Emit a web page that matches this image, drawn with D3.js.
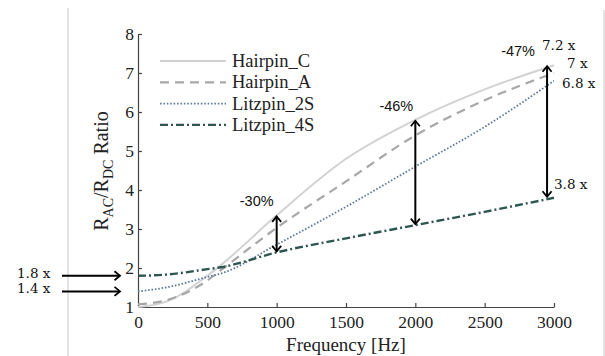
<!DOCTYPE html>
<html>
<head>
<meta charset="utf-8">
<script src="https://cdn.jsdelivr.net/npm/d3@7"></script>
<style>
  body { margin: 0; background: #fff; }
  svg { display: block; }
</style>
</head>
<body>
<svg id="chart" width="605" height="356"></svg>
<script>
// frequency points (Hz) and ratio values
const freqs      = [0,    200,  500,  600,  1000, 1500, 2000, 2500, 3000];
const hairpinC   = [1.0,  1.13, 1.8,  2.08, 3.35, 4.8,  5.8,  6.58, 7.2];
const hairpinA   = [1.07, 1.17, 1.68, 1.95, 3.03, 4.22, 5.4,  6.3,  7.0];
const litzpin2S  = [1.4,  1.5,  1.77, 1.86, 2.6,  3.57, 4.6,  5.62, 6.8];
const litzpin4S  = [1.8,  1.83, 1.97, 2.02, 2.4,  2.76, 3.1,  3.44, 3.8];

const seriesNames = ["Hairpin_C", "Hairpin_A", "Litzpin_2S", "Litzpin_4S"];
const xTicks = [0, 500, 1000, 1500, 2000, 2500, 3000];
const yTicks = [1, 2, 3, 4, 5, 6, 7, 8];

// reduction arrows: frequency, low value, high value, label
const arrowFreqs  = [1000, 2000, 2950];
const arrowLow    = [2.4, 3.1, 3.8];
const arrowHigh   = [3.35, 5.8, 7.2];
const arrowLabels = ["-30%", "-46%", "-47%"];

// end-value labels
const endLabels = ["7.2 x", "7 x", "6.8 x", "3.8 x"];
const startLabels = ["1.8 x", "1.4 x"];
const startValues = [1.8, 1.4];

const SERIF = '"Liberation Serif"';
const SANS = '"Liberation Sans"';
const SLAB = '"DejaVu Serif"';

const svg = d3.select("#chart");

const x = d3.scaleLinear().domain([0, 3000]).range([138, 554]);
const y = d3.scaleLinear().domain([1, 8]).range([307, 34]);

// page border lines
svg.append("line")
    .attr("x1", 68).attr("x2", 68).attr("y1", 8).attr("y2", 356)
    .attr("stroke", "#c8c8c8").attr("stroke-width", 1);
svg.append("line")
    .attr("x1", 604).attr("x2", 604).attr("y1", 10).attr("y2", 356)
    .attr("stroke", "#c8c8c8").attr("stroke-width", 1);

// x axis
const xAxis = svg.append("g")
    .attr("transform", `translate(0,${y(1)})`)
    .call(d3.axisBottom(x).tickValues(xTicks).tickFormat(d3.format("d"))
        .tickSizeInner(-4).tickSizeOuter(0).tickPadding(9));
// y axis
const yAxis = svg.append("g")
    .attr("transform", `translate(${x(0)},0)`)
    .call(d3.axisLeft(y).tickValues(yTicks).tickFormat(d3.format("d"))
        .tickSizeInner(-4).tickSizeOuter(0).tickPadding(4));

[xAxis, yAxis].forEach(a => {
    a.select(".domain").attr("stroke", "#444").attr("stroke-width", 1.2);
    a.selectAll(".tick line").attr("stroke", "#444").attr("stroke-width", 1.2);
    a.selectAll(".tick text")
        .style("font-family", SERIF)
        .style("font-size", "17.5px")
        .attr("fill", "#222");
});
xAxis.selectAll(".tick text").attr("dy", "0.71em");
xAxis.selectAll(".tick").filter(d => d === 0).select("line").remove();
yAxis.selectAll(".tick").filter(d => d === 1).select("line").remove();

// axis titles
svg.append("text")
    .attr("x", 346)
    .attr("y", 351)
    .attr("text-anchor", "middle")
    .style("font-family", SERIF)
    .style("font-size", "19px")
    .attr("fill", "#222")
    .text("Frequency [Hz]");

const yLabel = svg.append("text")
    .attr("transform", "translate(108,171) rotate(-90)")
    .attr("text-anchor", "middle")
    .style("font-family", SERIF)
    .style("font-size", "20px")
    .attr("fill", "#222");
yLabel.append("tspan").text("R");
yLabel.append("tspan").attr("dy", 5).style("font-size", "14px").text("AC");
yLabel.append("tspan").attr("dy", -5).text("/R");
yLabel.append("tspan").attr("dy", 5).style("font-size", "14px").text("DC");
yLabel.append("tspan").attr("dy", -5).text(" Ratio");

// series
const seriesValues = [hairpinC, hairpinA, litzpin2S, litzpin4S];
const seriesColors = ["#d2d2d2", "#a8a8a8", "#5f7b9a", "#2e5651"];
const seriesWidths = [2, 2.2, 1.8, 2.4];
const seriesDash = [null, "9,6", "1.6,1.8", "8,3,2,3"];

const line = d3.line()
    .x(d => x(d.f))
    .y(d => y(d.v))
    .curve(d3.curveMonotoneX);

seriesValues.forEach((vals, i) => {
    const pts = freqs.map((f, j) => ({ f: f, v: vals[j] }));
    svg.append("path")
        .datum(pts)
        .attr("fill", "none")
        .attr("stroke", seriesColors[i])
        .attr("stroke-width", seriesWidths[i])
        .attr("stroke-dasharray", seriesDash[i])
        .attr("d", line);
});

// legend
const legend = svg.append("g");
seriesNames.forEach((name, i) => {
    const ly = 61 + i * 21.3;
    legend.append("line")
        .attr("x1", 160).attr("x2", 226)
        .attr("y1", ly).attr("y2", ly)
        .attr("stroke", seriesColors[i])
        .attr("stroke-width", seriesWidths[i])
        .attr("stroke-dasharray", seriesDash[i]);
    legend.append("text")
        .attr("x", 232)
        .attr("y", ly + 6)
        .style("font-family", SERIF)
        .style("font-size", "18.5px")
        .attr("fill", "#222")
        .text(name);
});

// arrow markers
const defs = svg.append("defs");
defs.append("marker")
    .attr("id", "head")
    .attr("viewBox", "-8 -6 10 12")
    .attr("refX", 0).attr("refY", 0)
    .attr("markerWidth", 10).attr("markerHeight", 12)
    .attr("markerUnits", "userSpaceOnUse")
    .attr("orient", "auto-start-reverse")
    .append("path")
    .attr("d", "M-5.5,-4.5 L0,0 L-5.5,4.5")
    .attr("fill", "none")
    .attr("stroke", "#000")
    .attr("stroke-width", 1.8);

// vertical double arrows
arrowFreqs.forEach((f, i) => {
    svg.append("line")
        .attr("x1", x(f)).attr("x2", x(f))
        .attr("y1", y(arrowLow[i]) - 1).attr("y2", y(arrowHigh[i]) + 1)
        .attr("stroke", "#000")
        .attr("stroke-width", 2)
        .attr("marker-start", "url(#head)")
        .attr("marker-end", "url(#head)");
});

const labelDx = [-20, -19, -29];
arrowFreqs.forEach((f, i) => {
    svg.append("text")
        .attr("x", x(f) + labelDx[i])
        .attr("y", y(arrowHigh[i]) - 9)
        .attr("text-anchor", "middle")
        .style("font-family", SANS)
        .style("font-size", "14.5px")
        .attr("fill", "#111")
        .text(arrowLabels[i]);
});

// end value labels
const endPos = [[542, 50], [567, 68], [562, 88], [554, 189]];
endLabels.forEach((t, i) => {
    svg.append("text")
        .attr("x", endPos[i][0])
        .attr("y", endPos[i][1])
        .style("font-family", SLAB)
        .style("font-size", "13.5px")
        .attr("fill", "#111")
        .text(t);
});

// left arrows pointing at start values
startValues.forEach((v, i) => {
    svg.append("line")
        .attr("x1", 62).attr("x2", 120)
        .attr("y1", y(v)).attr("y2", y(v))
        .attr("stroke", "#000")
        .attr("stroke-width", 2)
        .attr("marker-end", "url(#head)");
    svg.append("text")
        .attr("x", 17)
        .attr("y", y(v) + 2)
        .style("font-family", SLAB)
        .style("font-size", "13.5px")
        .attr("fill", "#111")
        .text(startLabels[i]);
});
</script>
</body>
</html>
